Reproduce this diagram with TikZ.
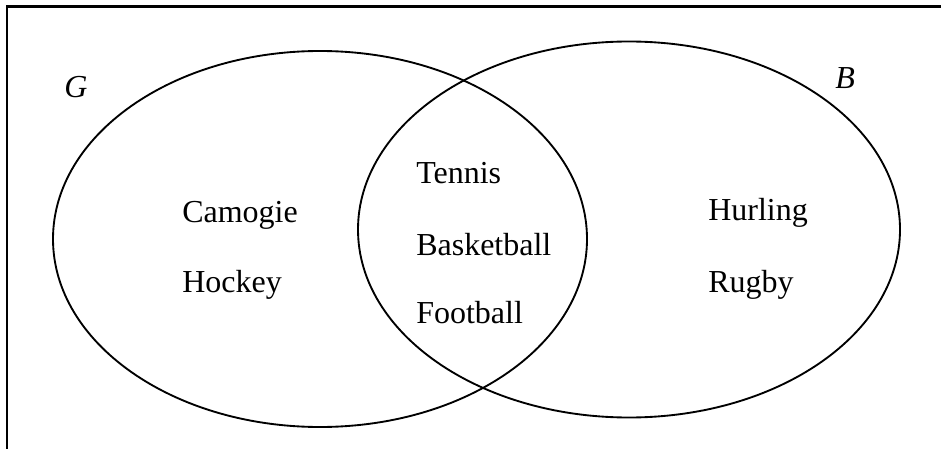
\documentclass[tikz,border=0pt]{standalone}
\usepackage{fontspec}
\setmainfont{Liberation Serif}
\begin{document}
\begin{tikzpicture}[x=0.75pt,y=-0.75pt,
  setline/.style={line width=1.4pt},
  framel/.style={line width=1.8pt},
  lbl/.style={anchor=base west,inner sep=0pt,font=\fontsize{24}{28}\selectfont},
  setname/.style={anchor=base west,inner sep=0pt,font=\fontsize{24}{28}\selectfont\itshape}]
\useasboundingbox (0,0) rectangle (941,449);
\coordinate (tl) at (7,6.5);
\coordinate (tr) at (941,6.5);
\coordinate (bl) at (7,449);
\draw[framel] (bl) -- (tl) -- (tr);
\draw[setline] (320,239) ellipse [x radius=267, y radius=188];
\draw[setline] (629,229.5) ellipse [x radius=271, y radius=188];
\node[setname] (g) at (64,98) {G};
\node[setname] (b) at (835,89) {B};
\node[lbl] (camogie) at (182,222) {Camogie};
\node[lbl] (hockey) at (182,292) {Hockey};
\node[lbl] (tennis) at (416,183) {Tennis};
\node[lbl] (basketball) at (416,255) {Basketball};
\node[lbl] (football) at (416,323) {Football};
\node[lbl] (hurling) at (708,220) {Hurling};
\node[lbl] (rugby) at (708,292) {Rugby};
\end{tikzpicture}
\end{document}
